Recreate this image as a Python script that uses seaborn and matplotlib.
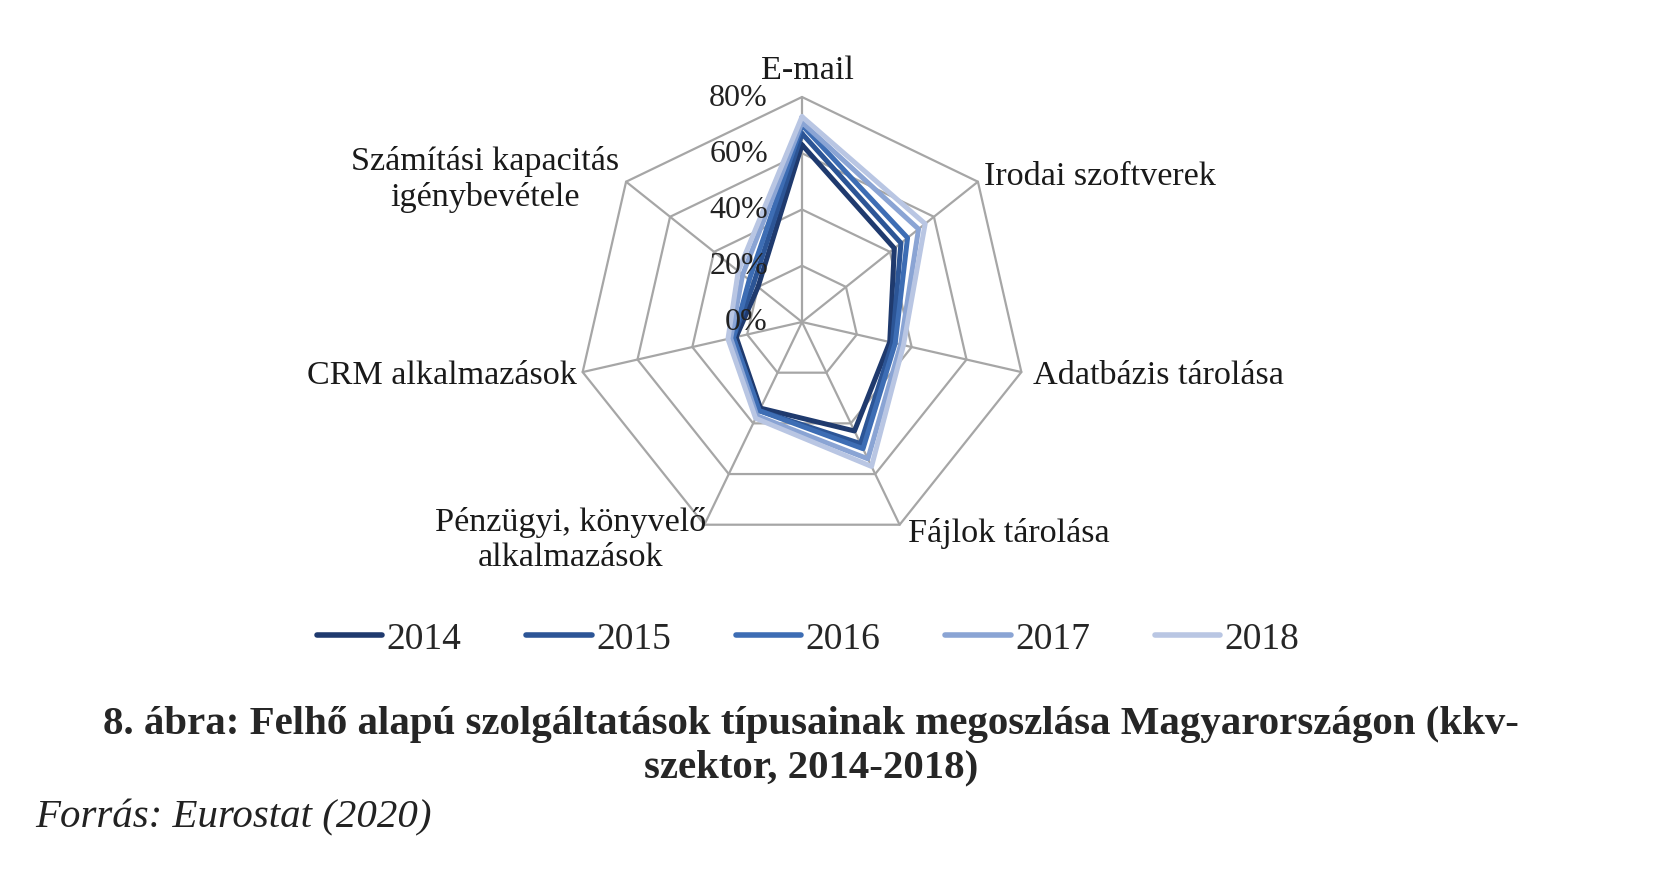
import numpy as np
import pandas as pd
import matplotlib
matplotlib.use("Agg")
import matplotlib.pyplot as plt
import seaborn as sns

categories = ["E-mail", "Irodai szoftverek", "Adatbázis tárolása", "Fájlok tárolása",
              "Pénzügyi, könyvelő\nalkalmazások", "CRM alkalmazások",
              "Számítási kapacitás\nigénybevétele"]
years = ["2014", "2015", "2016", "2017", "2018"]
v2014 = [63, 42, 32, 43, 34, 24, 20]
v2015 = [67, 45, 33, 48, 35, 25, 22]
v2016 = [70, 48, 34, 50, 35, 25, 24]
v2017 = [71, 53, 36, 54, 37, 26, 27]
v2018 = [73, 56, 37, 57, 38, 27, 29]
series = [v2014, v2015, v2016, v2017, v2018]
rticks = [0, 20, 40, 60, 80]
rtick_labels = ["0%", "20%", "40%", "60%", "80%"]
colors = ["#1f3a6e", "#2c5596", "#3d6db4", "#8aa4d4", "#b9c6e3"]
title_text = ("8. ábra: Felhő alapú szolgáltatások típusainak megoszlása Magyarországon (kkv-\n"
              "szektor, 2014-2018)")
source_text = "Forrás: Eurostat (2020)"

sns.set_style("white")
plt.rcParams['font.family'] = ['Liberation Serif', 'DejaVu Serif']

n = len(categories)
theta = np.linspace(0, 2 * np.pi, n, endpoint=False)
theta_closed = np.append(theta, theta[0])

rows = []
for y, vals in zip(years, series):
    closed = list(vals) + [vals[0]]
    for t, v in zip(theta_closed, closed):
        rows.append({"theta": t, "value": v, "year": y})
df = pd.DataFrame(rows)

W, H = 1667, 878
fig = plt.figure(figsize=(W / 100, H / 100), dpi=100)
cx, cy, R = 802, 323, 225
ax = fig.add_axes([(cx - R) / W, (H - cy - R) / H, 2 * R / W, 2 * R / H], projection='polar')
ax.set_theta_zero_location('N')
ax.set_theta_direction(-1)
ax.grid(False)
ax.spines['polar'].set_visible(False)
ax.set_facecolor('none')

grid_c = "#a6a6a6"
for r in rticks[1:]:
    ax.plot(theta_closed, [r] * (n + 1), color=grid_c, lw=1.6, zorder=1, clip_on=False)
for t in theta:
    ax.plot([t, t], [0, rticks[-1]], color=grid_c, lw=1.6, zorder=1, clip_on=False)

sns.lineplot(data=df, x="theta", y="value", hue="year", palette=colors, sort=False,
             estimator=None, ax=ax, linewidth=3.6, zorder=3)
ax.set_ylim(0, rticks[-1])
ax.set_xticks([])
ax.set_yticks([])
ax.set_xlabel("")
ax.set_ylabel("")

leg = ax.get_legend()
handles = leg.legend_handles
labels = [t.get_text() for t in leg.get_texts()]
leg.remove()

for r, lab in zip(rticks, rtick_labels):
    ax.annotate(lab, xy=(0, r), xytext=(-34, 0), textcoords='offset pixels',
                ha='right', va='center', fontsize=23, color='#222222', zorder=5)

lab_cfg = [
    ((5, 12), 'center', 'bottom'),
    ((6, 6), 'left', 'center'),
    ((12, -3), 'left', 'center'),
    ((8, -8), 'left', 'center'),
    ((2, -14), 'right', 'center'),
    ((-6, -3), 'right', 'center'),
    ((-7, 3), 'right', 'center'),
]
for t, lab, (off, ha, va) in zip(theta, categories, lab_cfg):
    ax.annotate(lab, xy=(t, rticks[-1]), xytext=off, textcoords='offset pixels',
                ha=ha, va=va, multialignment='center', fontsize=24.6, color='#1a1a1a',
                annotation_clip=False)

fig.legend(handles, labels, loc='center', bbox_to_anchor=(808 / W, 1 - 640 / H), ncol=5,
           frameon=False, fontsize=27, handlelength=1.75, handletextpad=0.12,
           columnspacing=1.72)
for h in fig.legends[0].legend_handles:
    h.set_linewidth(4)

fig.text(811 / W, 1 - 746 / H, title_text, ha='center', va='center', fontsize=29.4,
         fontweight='bold', linespacing=1.22)
fig.text(35 / W, 1 - 818 / H, source_text, ha='left', va='center', fontsize=29.4,
         fontstyle='italic', color='#222222')

fig.savefig("out.png", dpi=100)
